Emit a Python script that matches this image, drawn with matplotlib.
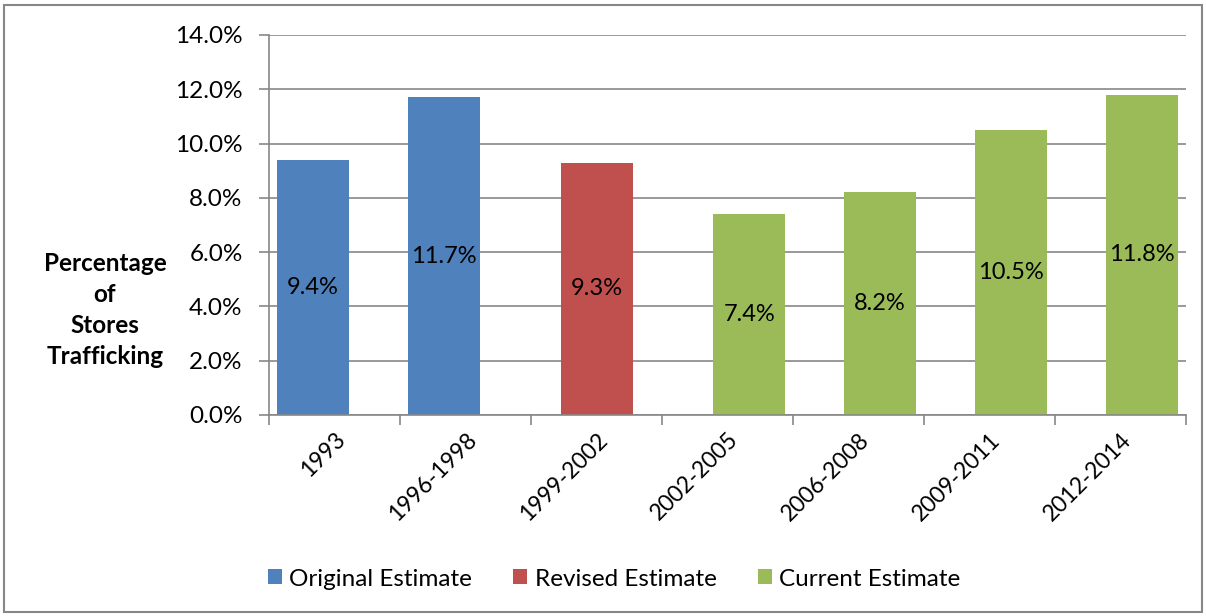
import numpy as np
import matplotlib
matplotlib.use("Agg")
import matplotlib.pyplot as plt
from matplotlib.patches import Rectangle
from matplotlib.ticker import FuncFormatter, MultipleLocator

plt.rcParams['font.family'] = ['Lato', 'DejaVu Sans']

categories = ['1993', '1996-1998', '1999-2002', '2002-2005',
              '2006-2008', '2009-2011', '2012-2014']
original = [9.4, 11.7, np.nan, np.nan, np.nan, np.nan, np.nan]
revised = [np.nan, np.nan, 9.3, np.nan, np.nan, np.nan, np.nan]
current = [np.nan, np.nan, np.nan, 7.4, 8.2, 10.5, 11.8]
series_names = ['Original Estimate', 'Revised Estimate', 'Current Estimate']

colors = ['#4F81BD', '#C0504D', '#9BBB59']
offsets = [-0.165, 0.0, 0.165]
bar_w = 0.55
grey = '#878787'

fig = plt.figure(figsize=(12.06, 6.16), dpi=100)
ax = fig.add_axes([0.2231, 0.3263, 0.7604, 0.6169])

x = np.arange(len(categories))
for vals, col, off, name in zip([original, revised, current], colors, offsets, series_names):
    vals = np.array(vals, dtype=float)
    ax.bar(x + off, vals, width=bar_w, color=col, label=name, zorder=3)
    for xi, v in zip(x, vals):
        if not np.isnan(v):
            ax.text(xi + off, v / 2, f'{v:.1f}%', ha='center', va='center',
                    fontsize=17, color='black', zorder=4)

ax.set_xlim(-0.5, len(categories) - 0.5)
ax.set_ylim(0, 14)
ax.yaxis.set_major_locator(MultipleLocator(2))
ax.yaxis.set_major_formatter(FuncFormatter(lambda v, p: f'{v:.1f}%'))
ax.grid(axis='y', color=grey, linewidth=1.2, zorder=0)

ax.set_xticks(x)
ax.set_xticklabels(categories, rotation=45, ha='right', rotation_mode='anchor')
ax.set_xticks(np.arange(-0.5, len(categories)), minor=True)
ax.tick_params(axis='x', which='major', length=0, pad=10, labelsize=16.5)
ax.tick_params(axis='x', which='minor', length=7, width=1.2, color=grey, direction='out')
ax.tick_params(axis='y', length=7, width=1.2, color=grey, labelsize=17.5, pad=12)

for side in ['top', 'right']:
    ax.spines[side].set_visible(False)
for side in ['left', 'bottom']:
    ax.spines[side].set_color(grey)
    ax.spines[side].set_linewidth(1.2)
    ax.spines[side].set_zorder(5)

fig.text(105 / 1206, 1 - 310 / 616, 'Percentage\nof\nStores\nTrafficking',
         ha='center', va='center', fontsize=17.5, fontweight='bold', linespacing=1.43)

fig.legend(loc='center', bbox_to_anchor=(614 / 1206, 1 - 579 / 616), ncol=3, frameon=False,
           fontsize=17.5, handlelength=0.58, handleheight=0.58, handletextpad=0.3,
           columnspacing=1.7)

fig.patches.append(Rectangle((4 / 1206, 4 / 616), 1 - 8 / 1206, 1 - 9 / 616,
                             transform=fig.transFigure, fill=False,
                             edgecolor=grey, linewidth=1.5))

fig.savefig('out.png', dpi=100)
